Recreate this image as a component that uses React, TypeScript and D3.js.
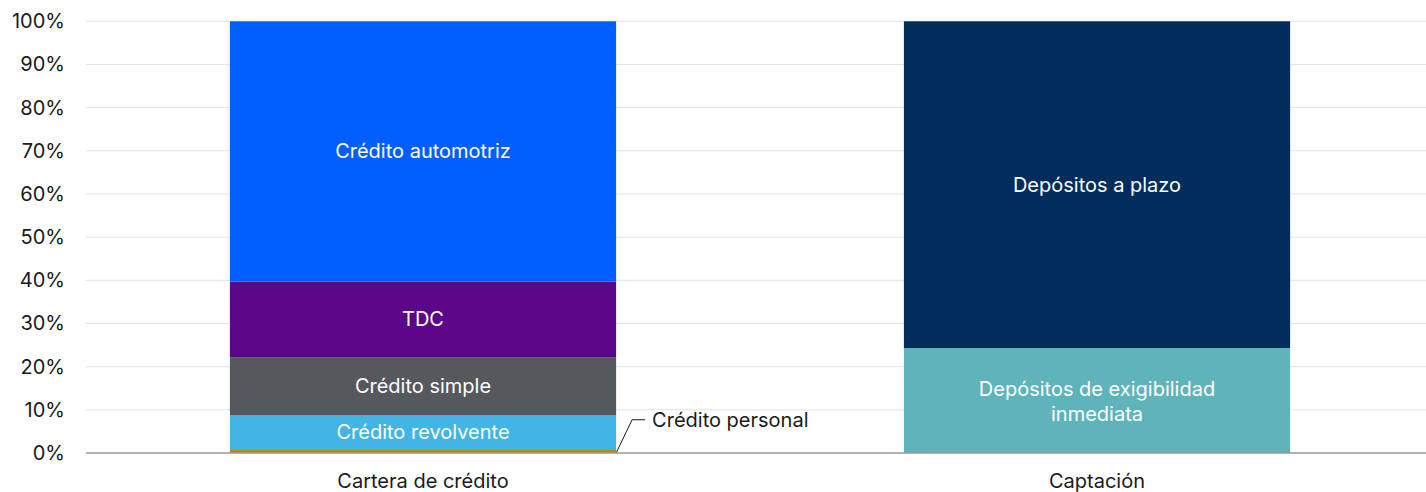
import React from "react";
import * as d3 from "d3";

const categories = ["Cartera de crédito", "Captación"];
const carteraSegments = ["Crédito personal", "Crédito revolvente", "Crédito simple", "TDC", "Crédito automotriz"];
const carteraValues = [0.9, 7.9, 13.4, 17.5, 60.3];
const carteraColors = ["#C08A00", "#42B4E6", "#55585D", "#5C0689", "#005EFF"];
const captacionSegments = ["Depósitos de exigibilidad inmediata", "Depósitos a plazo"];
const captacionValues = [24.3, 75.7];
const captacionColors = ["#5FB4BA", "#002D5C"];
const yTicks = [0, 10, 20, 30, 40, 50, 60, 70, 80, 90, 100];

const W = 1426, H = 492;
const FONT = "Inter, 'Noto Sans', sans-serif";
const FS = 20;

export default function App() {
  const x = d3.scaleBand<string>().domain(categories).range([86, 1434]).paddingInner(0.427).paddingOuter(0.2135);
  const y = d3.scaleLinear().domain([0, 100]).range([453, 21.3]);

  const stacks = [
    { cat: categories[0], names: carteraSegments, values: carteraValues, colors: carteraColors },
    { cat: categories[1], names: captacionSegments, values: captacionValues, colors: captacionColors },
  ];

  const bw = x.bandwidth();

  return (
    <svg width={W} height={H} style={{ position: "absolute", left: 0, top: 0, fontFamily: FONT }}>
      {yTicks.map((t) => (
        <g key={t}>
          {t > 0 && <line x1={86} x2={1426} y1={y(t)} y2={y(t)} stroke="#e3e3e3" strokeWidth={1} />}
          <text x={65} y={y(t)} dy="0.35em" textAnchor="end" fontSize={FS} fill="#1a1a1a">{t}%</text>
        </g>
      ))}
      {stacks.map((s) => {
        let cum = 0;
        const x0 = x(s.cat)!;
        return (
          <g key={s.cat}>
            {s.values.map((v, i) => {
              const y0 = cum, y1 = cum + v;
              cum = y1;
              const top = y(y1), bot = y(y0);
              const name = s.names[i];
              const mid = (top + bot) / 2;
              let label: React.ReactNode = null;
              if (name === "Crédito personal") {
                const lx = x0 + bw;
                label = (
                  <g>
                    <polyline points={`${lx},${bot} ${lx + 16},${y(7.7)} ${lx + 29},${y(7.7)}`} fill="none" stroke="#1a1a1a" strokeWidth={1} />
                    <text x={lx + 36} y={y(7.7)} dy="0.35em" fontSize={FS} fill="#1a1a1a">{name}</text>
                  </g>
                );
              } else if (name === "Depósitos de exigibilidad inmediata") {
                label = (
                  <text x={x0 + bw / 2} y={mid} textAnchor="middle" fontSize={FS} fill="#fff">
                    <tspan x={x0 + bw / 2} dy="-0.25em">Depósitos de exigibilidad</tspan>
                    <tspan x={x0 + bw / 2} dy="1.25em">inmediata</tspan>
                  </text>
                );
              } else {
                label = (
                  <text x={x0 + bw / 2} y={mid} dy="0.35em" textAnchor="middle" fontSize={FS} fill="#fff">{name}</text>
                );
              }
              return (
                <g key={name}>
                  <rect x={x0} y={top} width={bw} height={bot - top} fill={s.colors[i]} />
                  {label}
                </g>
              );
            })}
            <text x={x0 + bw / 2} y={481} dy="0.35em" textAnchor="middle" fontSize={FS} fill="#1a1a1a">{s.cat}</text>
          </g>
        );
      })}
      <line x1={86} x2={1426} y1={y(0)} y2={y(0)} stroke="#999" strokeWidth={1.5} />
    </svg>
  );
}
